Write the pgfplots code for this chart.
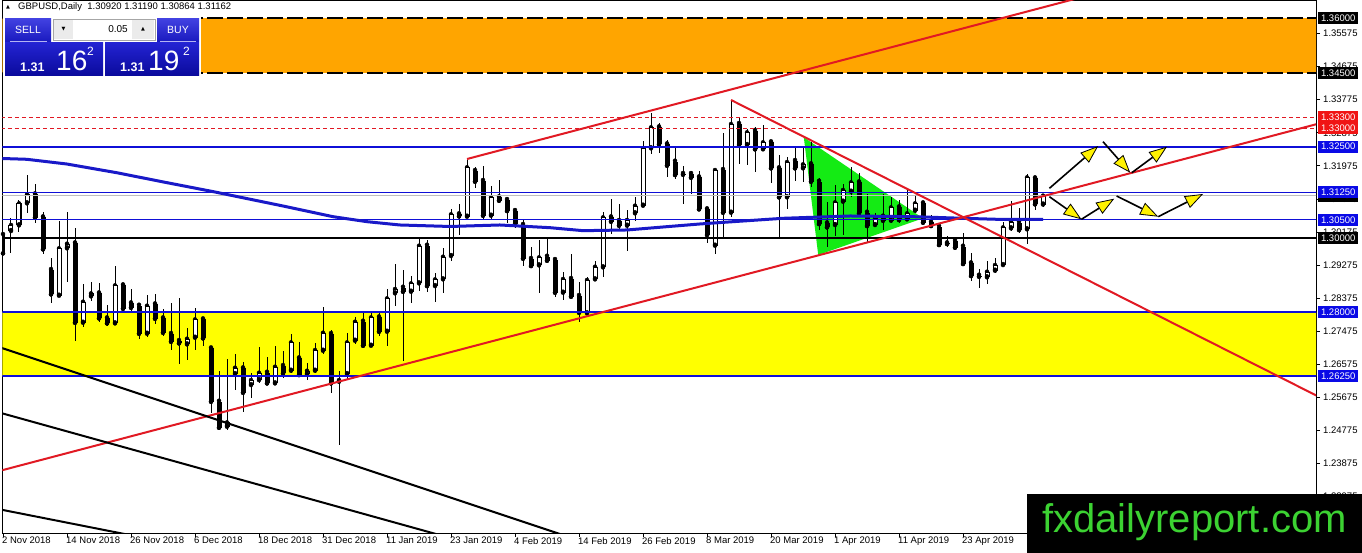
\documentclass[border=0pt]{standalone}
\usepackage{fontspec}
\setmainfont{Liberation Sans}
\newfontfamily\dejavu{DejaVu Sans}
\usepackage{pgfplots}
\pgfplotsset{compat=1.18}
\usepackage{pgfplotstable}
\usetikzlibrary{arrows.meta}

\definecolor{mtblue}{RGB}{15,15,215}
\definecolor{lblblue}{RGB}{10,10,230}
\definecolor{mtred}{RGB}{225,25,35}
\definecolor{lblred}{RGB}{240,20,20}
\definecolor{maline}{RGB}{25,25,200}
\definecolor{tri}{RGB}{20,235,20}
\definecolor{zoneY}{RGB}{255,255,0}
\definecolor{zoneO}{RGB}{255,165,0}
\definecolor{bidgray}{RGB}{190,190,190}
\definecolor{btnhi}{RGB}{65,65,225}
\definecolor{btnlo}{RGB}{25,25,190}
\definecolor{boxhi}{RGB}{35,35,210}
\definecolor{boxlo}{RGB}{10,10,155}
\definecolor{wmgreen}{RGB}{60,210,50}

\newcommand{\tickfont}{\fontsize{9.5}{10}\selectfont}

% daily GBPUSD candles: bar index, open, high, low, close
\pgfplotstableread{
i o h l c
0 1.30090 1.30362 1.29499 1.29590
1 1.30199 1.30544 1.29608 1.30362
2 1.30353 1.31043 1.30181 1.30952
3 1.30952 1.31724 1.30698 1.31197
4 1.31197 1.31470 1.30426 1.30562
5 1.30571 1.30725 1.29563 1.29699
6 1.29136 1.29454 1.28246 1.28473
7 1.28437 1.30480 1.28410 1.29727
8 1.29727 1.30716 1.28800 1.29854
9 1.29863 1.30271 1.27211 1.27701
10 1.27701 1.28746 1.27574 1.28274
11 1.28419 1.28818 1.28300 1.28501
12 1.28501 1.28791 1.27729 1.27820
13 1.27820 1.28183 1.27620 1.27683
14 1.27683 1.29254 1.27656 1.28719
15 1.28719 1.28791 1.27983 1.28083
16 1.28228 1.28610 1.27956 1.28110
17 1.28165 1.28210 1.27248 1.27402
18 1.27402 1.28455 1.27302 1.28165
19 1.28201 1.28473 1.27665 1.27810
20 1.27820 1.28065 1.27338 1.27429
21 1.27393 1.28228 1.26957 1.27184
22 1.27202 1.28383 1.26566 1.27139
23 1.27111 1.27547 1.26685 1.27266
24 1.27293 1.28092 1.26957 1.27792
25 1.27792 1.27865 1.27066 1.27275
26 1.27002 1.27066 1.25232 1.25550
27 1.25550 1.26385 1.24796 1.24841
28 1.24869 1.26703 1.24778 1.24987
29 1.26303 1.26848 1.25867 1.26476
30 1.26458 1.26639 1.25277 1.25795
31 1.26004 1.26322 1.25641 1.26140
32 1.26140 1.27030 1.26049 1.26340
33 1.26340 1.26775 1.26030 1.26049
34 1.26049 1.27066 1.26030 1.26503
35 1.26521 1.26939 1.26185 1.26322
36 1.26394 1.27393 1.26322 1.27166
37 1.26730 1.27184 1.26249 1.26276
38 1.26294 1.26594 1.26140 1.26394
39 1.26394 1.27157 1.26322 1.26957
40 1.26939 1.28137 1.26848 1.27429
41 1.27393 1.27502 1.25795 1.26049
42 1.26094 1.26385 1.24369 1.26140
43 1.26303 1.27429 1.26140 1.27166
44 1.27211 1.27847 1.27121 1.27729
45 1.27729 1.27956 1.27048 1.27075
46 1.27075 1.27983 1.27048 1.27847
47 1.27847 1.27956 1.27338 1.27456
48 1.27456 1.28619 1.27066 1.28365
49 1.28501 1.29291 1.28165 1.28619
50 1.28655 1.29136 1.26666 1.28546
51 1.28546 1.28973 1.28228 1.28773
52 1.28773 1.29990 1.28564 1.29799
53 1.29799 1.29954 1.28546 1.28700
54 1.28700 1.29064 1.28274 1.28882
55 1.28882 1.29727 1.28519 1.29499
56 1.29518 1.30798 1.29390 1.30653
57 1.30653 1.30934 1.30090 1.30598
58 1.30589 1.32160 1.30544 1.31933
59 1.31833 1.31933 1.31361 1.31542
60 1.31560 1.31969 1.30525 1.30616
61 1.30616 1.31424 1.30516 1.31116
62 1.31116 1.31588 1.30952 1.31025
63 1.31043 1.31134 1.30407 1.30743
64 1.30743 1.30834 1.30271 1.30389
65 1.30362 1.30516 1.29245 1.29445
66 1.29436 1.29772 1.29227 1.29245
67 1.29263 1.29953 1.28519 1.29481
68 1.29499 1.30044 1.29345 1.29390
69 1.29409 1.29454 1.28410 1.28519
70 1.28519 1.29073 1.28319 1.28891
71 1.28891 1.29572 1.28380 1.28410
72 1.28428 1.28818 1.27729 1.27974
73 1.27956 1.28955 1.27883 1.28864
74 1.28882 1.29381 1.28864 1.29227
75 1.29209 1.30725 1.28955 1.30571
76 1.30571 1.31061 1.30108 1.30453
77 1.30471 1.30934 1.30226 1.30344
78 1.30344 1.30771 1.29663 1.30498
79 1.30680 1.31116 1.30480 1.30889
80 1.30889 1.32659 1.30861 1.32450
81 1.32450 1.33404 1.32296 1.33022
82 1.33022 1.33131 1.32314 1.32559
83 1.32559 1.32677 1.31679 1.31978
84 1.32087 1.32478 1.31615 1.31724
85 1.31751 1.31978 1.30934 1.31733
86 1.31751 1.31824 1.31206 1.31651
87 1.31660 1.31833 1.30743 1.30789
88 1.30789 1.30816 1.29881 1.30090
89 1.29799 1.31887 1.29572 1.31860
90 1.31860 1.32859 1.30044 1.30698
91 1.30698 1.33767 1.30589 1.33113
92 1.33113 1.33295 1.32024 1.32541
93 1.32541 1.32968 1.31997 1.32886
94 1.32923 1.33041 1.31815 1.32423
95 1.32423 1.33086 1.32405 1.32614
96 1.32614 1.32632 1.31497 1.31906
97 1.31906 1.32269 1.30044 1.31116
98 1.31116 1.32205 1.30789 1.32078
99 1.32105 1.32450 1.31570 1.31906
100 1.31906 1.32469 1.31542 1.32015
101 1.32015 1.32632 1.31388 1.31542
102 1.31542 1.31633 1.30226 1.30389
103 1.30407 1.30998 1.29754 1.30298
104 1.30362 1.31452 1.30062 1.30979
105 1.30998 1.31470 1.30090 1.31315
106 1.31270 1.31951 1.31134 1.31524
107 1.31524 1.31788 1.30589 1.30680
108 1.30698 1.31197 1.29881 1.30335
109 1.30362 1.30680 1.30317 1.30544
110 1.30589 1.31197 1.30226 1.30480
111 1.30480 1.31134 1.30426 1.30843
112 1.30843 1.31043 1.30426 1.30498
113 1.30516 1.31315 1.30480 1.30680
114 1.30752 1.31179 1.30680 1.30952
115 1.30952 1.30998 1.30407 1.30426
116 1.30435 1.30634 1.30317 1.30335
117 1.30317 1.30389 1.29772 1.29817
118 1.29863 1.30072 1.29772 1.29845
119 1.29926 1.29953 1.29699 1.29745
120 1.29772 1.30153 1.29263 1.29300
121 1.29318 1.29608 1.28837 1.28973
122 1.28982 1.29154 1.28637 1.28955
123 1.28937 1.29390 1.28746 1.29091
124 1.29118 1.29454 1.29045 1.29272
125 1.29272 1.30453 1.29254 1.30298
126 1.30271 1.31016 1.30208 1.30453
127 1.30426 1.30816 1.30153 1.30226
128 1.30244 1.31751 1.29845 1.31660
129 1.31633 1.31697 1.30771 1.30925
130 1.30920 1.31190 1.30864 1.31162
}\candles

\begin{document}
\begin{tikzpicture}[x=1pt,y=1pt]
\useasboundingbox (0,0) rectangle (1362,553);
\fill[white] (0,0) rectangle (1362,553);
\begin{axis}[
    at={(2.5pt,20pt)}, anchor=south west,
    width=1313.5pt, height=533pt, scale only axis,
    xmin=-0.0625, xmax=164.125,
    ymin=1.21975, ymax=1.36490,
    clip mode=individual,
    axis line style={black, line width=0.8pt},
    xtick pos=left, ytick pos=right,
    tick align=outside, major tick length=4pt,
    tick style={black, line width=0.6pt},
    xtick={0,8,...,120},
    xticklabels={2 Nov 2018, 14 Nov 2018, 26 Nov 2018, 6 Dec 2018, 18 Dec 2018,
        31 Dec 2018, 11 Jan 2019, 23 Jan 2019, 4 Feb 2019, 14 Feb 2019,
        26 Feb 2019, 8 Mar 2019, 20 Mar 2019, 1 Apr 2019, 11 Apr 2019, 23 Apr 2019},
    xticklabel style={anchor=north west, inner sep=0pt, font=\tickfont, xshift=-1pt},
    ytick={1.22975,1.23875,1.24775,1.25675,1.26575,1.27475,1.28375,1.29275,
        1.30175,1.31075,1.31975,1.32875,1.33775,1.34675,1.35575},
    yticklabels={1.22975,1.23875,1.24775,1.25675,1.26575,1.27475,1.28375,1.29275,
        1.30175,1.31075,1.31975,1.32875,1.33775,1.34675,1.35575},
    yticklabel style={anchor=west, inner sep=0pt, font=\tickfont, xshift=3pt},
]

% zones
\addplot[fill=zoneO, draw=none, forget plot] coordinates {(-2,1.345) (166,1.345) (166,1.36) (-2,1.36)} -- cycle;
\addplot[fill=zoneY, draw=none, forget plot] coordinates {(-2,1.2625) (166,1.2625) (166,1.28) (-2,1.28)} -- cycle;
% pennant
\addplot[fill=tri, draw=none, forget plot] coordinates {(100.1,1.32751) (101.9,1.29546) (115.0,1.30545)} -- cycle;

% candles: wicks, bodies, hollow up bodies
\addplot[only marks, mark=none, forget plot,
    error bars/.cd, y dir=both, y explicit, error mark=none,
    error bar style={draw=black, line width=1pt}]
    table[x=i, y=c, y error plus expr=\thisrow{h}-\thisrow{c},
          y error minus expr=\thisrow{c}-\thisrow{l}] {\candles};
\addplot[only marks, mark=none, forget plot,
    error bars/.cd, y dir=plus, y explicit, error mark=none,
    error bar style={draw=black, line width=5pt}]
    table[x=i, y expr={min(\thisrow{o},\thisrow{c})},
          y error plus expr={max(abs(\thisrow{c}-\thisrow{o}),0.0003)}] {\candles};
\addplot[only marks, mark=none, forget plot,
    error bars/.cd, y dir=plus, y explicit, error mark=none,
    error bar style={draw=white, line width=3pt}]
    table[x=i, y expr={\thisrow{o}+0.00027},
          y error plus expr={max(\thisrow{c}-\thisrow{o}-0.00054,0)}] {\candles};

% horizontal levels
\addplot[black, line width=1.6pt, dash pattern=on 16pt off 4pt, forget plot] coordinates {(-2,1.36) (166,1.36)};
\addplot[black, line width=1.6pt, dash pattern=on 16pt off 4pt, forget plot] coordinates {(-2,1.345) (166,1.345)};
\addplot[mtred, line width=0.8pt, dash pattern=on 4pt off 3pt, forget plot] coordinates {(-2,1.333) (166,1.333)};
\addplot[mtred, line width=0.8pt, dash pattern=on 4pt off 3pt, forget plot] coordinates {(-2,1.330) (166,1.330)};
\addplot[mtblue, line width=2pt, forget plot] coordinates {(-2,1.325) (166,1.325)};
\addplot[bidgray, line width=0.8pt, forget plot] coordinates {(-2,1.31162) (166,1.31162)};
\addplot[mtblue, line width=1pt, forget plot] coordinates {(-2,1.3125) (166,1.3125)};
\addplot[mtblue, line width=1pt, forget plot] coordinates {(-2,1.305) (166,1.305)};
\addplot[black, line width=2pt, forget plot] coordinates {(-2,1.300) (166,1.300)};
\addplot[mtblue, line width=2pt, forget plot] coordinates {(-2,1.280) (166,1.280)};
\addplot[mtblue, line width=2pt, forget plot] coordinates {(-2,1.2625) (166,1.2625)};

% moving average
\addplot[maline, line width=3pt, forget plot] coordinates {
    (-1,1.32180) (2.96,1.32152) (7.96,1.32024) (14.2,1.31787) (20.5,1.31515)
    (26.3,1.31270) (35,1.30880) (41.25,1.30589) (45.5,1.30453) (49.6,1.30363)
    (55.9,1.30322) (62.1,1.30363) (68.4,1.30289) (72.5,1.30208) (78,1.30227)
    (83,1.30317) (87.1,1.30390) (91.25,1.30453) (97.5,1.30545) (105.9,1.30608)
    (113.75,1.30589) (120,1.30545) (124.2,1.30518) (130,1.30518)};

% trend lines
\addplot[mtred, line width=2pt, forget plot] coordinates {(-1,1.23633) (166,1.33212)};
\addplot[mtred, line width=2pt, forget plot] coordinates {(58,1.32160) (145,1.37150)};
\addplot[mtred, line width=2pt, forget plot] coordinates {(91,1.33767) (166,1.25517)};
\addplot[black, line width=2pt, forget plot] coordinates {(-1,1.27075) (72,1.21774)};
\addplot[black, line width=2pt, forget plot] coordinates {(-1,1.25288) (56,1.21834)};
\addplot[black, line width=2pt, forget plot] coordinates {(-1,1.22644) (16,1.21913)};

% projected paths
\pgfplotsset{proj/.style={black, line width=1.6pt, forget plot,
    -{Triangle[length=18pt, width=13pt, fill=yellow, line width=0.8pt]}}}
\addplot[proj] coordinates {(130.8,1.31362) (136.9,1.32514)};
\addplot[proj] coordinates {(137.5,1.32631) (140.9,1.31787)};
\addplot[proj] coordinates {(141.1,1.31787) (145.5,1.32495)};
\addplot[proj] coordinates {(130.8,1.31133) (134.8,1.30518)};
\addplot[proj] coordinates {(134.8,1.30518) (138.9,1.31079)};
\addplot[proj] coordinates {(139.2,1.31153) (144.4,1.30589)};
\addplot[proj] coordinates {(144.4,1.30589) (150.0,1.31207)};

\coordinate (p136) at (axis cs:164.125,1.36);
\coordinate (p1345) at (axis cs:164.125,1.345);
\coordinate (p1333) at (axis cs:164.125,1.333);
\coordinate (p133) at (axis cs:164.125,1.330);
\coordinate (p1325) at (axis cs:164.125,1.325);
\coordinate (pbid) at (axis cs:164.125,1.31162);
\coordinate (p13125) at (axis cs:164.125,1.3125);
\coordinate (p1305) at (axis cs:164.125,1.305);
\coordinate (p130) at (axis cs:164.125,1.300);
\coordinate (p128) at (axis cs:164.125,1.280);
\coordinate (p12625) at (axis cs:164.125,1.2625);
\end{axis}

% price tags on the right scale
\tikzset{tag/.style={anchor=west, xshift=2pt, fill=#1, text=white, inner sep=0pt,
    minimum width=40pt, minimum height=12pt, font=\tickfont}}
\node[tag=black] at (p136) {1.36000};
\node[tag=black] at (p1345) {1.34500};
\node[tag=lblred] at (p1333) {1.33300};
\node[tag=lblred] at (p133) {1.33000};
\node[tag=lblblue] at (p1325) {1.32500};
\node[tag=black] at (pbid) {1.31162};
\node[tag=lblblue] at (p13125) {1.31250};
\node[tag=lblblue] at (p1305) {1.30500};
\node[tag=black] at (p130) {1.30000};
\node[tag=lblblue] at (p128) {1.28000};
\node[tag=lblblue] at (p12625) {1.26250};

% chart caption
\node[font=\dejavu\fontsize{5}{5}\selectfont, inner sep=0pt] at (8,546) {▲};
\node[anchor=west, inner sep=0pt, font=\tickfont] at (18,546) {GBPUSD,Daily\ \ 1.30920 1.31190 1.30864 1.31162};

% one-click trading panel
\fill[white] (3,476) rectangle (201,536);
\shade[top color=btnhi, bottom color=btnlo] (5,511) rectangle (51,534);
\shade[top color=btnhi, bottom color=btnlo] (157,511) rectangle (199,534);
\draw[white!60!btnhi, line width=0.6pt] (10,512) -- (47,512);
\draw[white!60!btnhi, line width=0.6pt] (160,512) -- (196,512);
\node[text=white, font=\fontsize{10.5}{11}\selectfont] at (28,523) {SELL};
\node[text=white, font=\fontsize{10.5}{11}\selectfont] at (178,523) {BUY};
\fill[white] (53,513) rectangle (155,534);
\draw[black!35, line width=0.5pt] (53,513) rectangle (155,534);
\fill[black!8] (54,514) rectangle (73,533);
\fill[black!8] (132,514) rectangle (154,533);
\node[font=\dejavu\fontsize{5}{5}\selectfont] at (63.5,523.5) {▼};
\node[font=\dejavu\fontsize{5}{5}\selectfont] at (143,523.5) {▲};
\node[anchor=east, inner sep=0pt, font=\fontsize{10}{11}\selectfont] at (128,523.5) {0.05};
\shade[top color=boxhi, bottom color=boxlo] (5,477) rectangle (103,510);
\shade[top color=boxhi, bottom color=boxlo] (105,477) rectangle (199,510);
\node[anchor=base west, inner sep=0pt, text=white, font=\bfseries\fontsize{12.5}{13}\selectfont] at (20,481) {1.31};
\node[anchor=base west, inner sep=0pt, text=white, font=\fontsize{28}{28}\selectfont] at (56,482) {16};
\node[anchor=base west, inner sep=0pt, text=white, font=\fontsize{12}{12}\selectfont] at (87,497) {2};
\node[anchor=base west, inner sep=0pt, text=white, font=\bfseries\fontsize{12.5}{13}\selectfont] at (120,481) {1.31};
\node[anchor=base west, inner sep=0pt, text=white, font=\fontsize{28}{28}\selectfont] at (148,482) {19};
\node[anchor=base west, inner sep=0pt, text=white, font=\fontsize{12}{12}\selectfont] at (183,497) {2};

% watermark
\fill[black] (1027,0) rectangle (1362,59);
\node[anchor=base west, inner sep=0pt, text=wmgreen, font=\fontsize{40}{40}\selectfont] at (1042,20) {fxdailyreport.com};
\end{tikzpicture}
\end{document}
